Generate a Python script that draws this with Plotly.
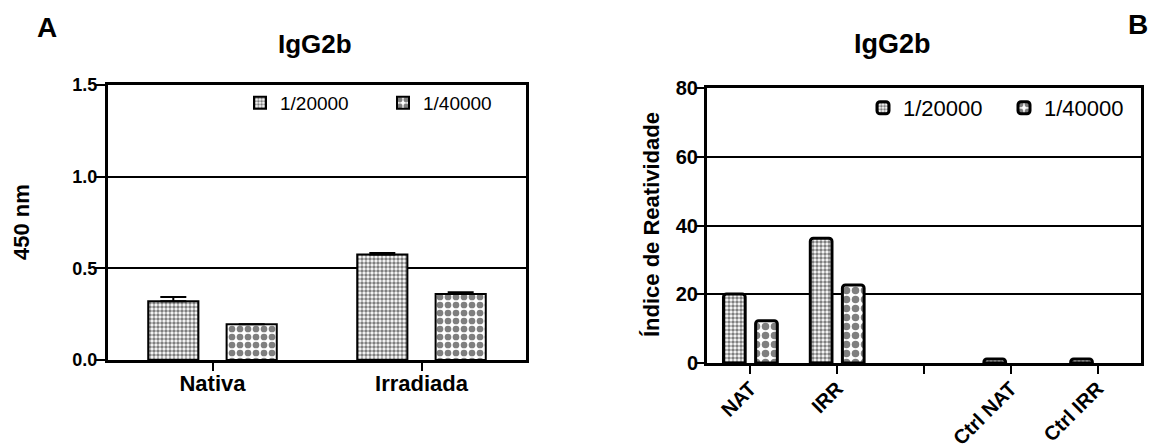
import plotly.graph_objects as go

FONT = "Liberation Sans, Arial, sans-serif"

# ---------------- data ----------------
series_names = ["1/20000", "1/40000"]

a_categories = ["Nativa", "Irradiada"]
a_20000 = [0.32, 0.575]
a_20000_err = [0.023, 0.008]
a_40000 = [0.195, 0.36]
a_40000_err = [0.0, 0.01]
a_yticks = [0.0, 0.5, 1.0, 1.5]

b_categories = ["NAT", "IRR", "", "Ctrl NAT", "Ctrl IRR"]
b_20000 = [20.1, 36.3, None, 1.2, 1.2]
b_40000 = [12.3, 22.7, None, None, None]
b_yticks = [0, 20, 40, 60, 80]

# page body has an 8px margin, so the figure is sized to fit the window
OFF = 8
WIN_W, WIN_H = 1156, 448
W, H = WIN_W - OFF, WIN_H - OFF


def px_x(p):
    return (p - OFF) / W


def px_y(p):
    return (WIN_H - p) / H


def fine(size):
    return dict(shape=".", size=size, solidity=0.6, fgcolor="black", bgcolor="white")


def coarse(size):
    return dict(shape=".", size=size, solidity=0.55, fgcolor="black", bgcolor="white")


fig = go.Figure()

a_x = list(range(len(a_categories)))
b_x = list(range(len(b_categories)))

# Panel A
fig.add_trace(go.Bar(
    x=a_x, y=a_20000, name=series_names[0], width=0.24, offset=-0.3075,
    marker=dict(color="white", line=dict(color="black", width=2), pattern=fine(4)),
    error_y=dict(type="data", array=a_20000_err, arrayminus=[0] * len(a_20000_err),
                 symmetric=False, color="black", thickness=2, width=13),
    xaxis="x", yaxis="y", legend="legend",
))
fig.add_trace(go.Bar(
    x=a_x, y=a_40000, name=series_names[1], width=0.24, offset=0.0675,
    marker=dict(color="white", line=dict(color="black", width=2), pattern=coarse(8)),
    error_y=dict(type="data", array=a_40000_err, arrayminus=[0] * len(a_40000_err),
                 symmetric=False, color="black", thickness=2, width=13),
    xaxis="x", yaxis="y", legend="legend",
))

# Panel B
fig.add_trace(go.Bar(
    x=b_x, y=b_20000, name=series_names[0], width=0.25, offset=-0.31,
    marker=dict(color="white", line=dict(color="black", width=3), pattern=fine(4),
                cornerradius=3),
    xaxis="x2", yaxis="y2", legend="legend2",
))
fig.add_trace(go.Bar(
    x=b_x, y=b_40000, name=series_names[1], width=0.25, offset=0.06,
    marker=dict(color="white", line=dict(color="black", width=3), pattern=coarse(9),
                cornerradius=3),
    xaxis="x2", yaxis="y2", legend="legend2",
))

axis_common = dict(
    showline=True, linecolor="black", mirror=True, zeroline=False,
    ticks="outside", tickcolor="black", tickwidth=2, automargin=False,
)

fig.update_layout(
    width=W, height=H,
    margin=dict(l=0, r=0, t=0, b=0, autoexpand=False),
    paper_bgcolor="white", plot_bgcolor="white",
    font=dict(family=FONT, color="black"),
    barmode="overlay",
    xaxis=dict(
        domain=[px_x(108), px_x(526)], anchor="y",
        range=[-0.5, len(a_categories) - 0.5],
        tickmode="array", tickvals=a_x, ticktext=a_categories,
        ticklen=8, linewidth=3, showgrid=False, ticklabelstandoff=-6,
        tickfont=dict(family=FONT, size=22, weight="bold"),
        **axis_common,
    ),
    xaxis3=dict(
        overlaying="x", side="top", anchor="y",
        range=[-0.5, len(a_categories) - 0.5],
        tickmode="array", tickvals=a_x, automargin=False,
        ticks="inside", ticklen=9, tickwidth=2, tickcolor="black",
        showticklabels=False, showgrid=False, showline=False, zeroline=False,
    ),
    yaxis=dict(
        domain=[px_y(360), px_y(85)], anchor="x",
        range=[0, 1.5], tickmode="array", tickvals=a_yticks, tickformat=".1f",
        ticklen=10, linewidth=3, ticklabelstandoff=-6,
        showgrid=True, gridcolor="black", gridwidth=2,
        tickfont=dict(family=FONT, size=18, weight="bold"),
        **axis_common,
    ),
    xaxis2=dict(
        domain=[px_x(707), px_x(1141)], anchor="y2",
        range=[-0.5, len(b_categories) - 0.5],
        tickmode="array", tickvals=b_x, ticktext=b_categories, tickangle=-45,
        ticklen=8, linewidth=3, showgrid=False, ticklabelstandoff=-5,
        tickfont=dict(family=FONT, size=20, weight="bold"),
        **axis_common,
    ),
    yaxis2=dict(
        domain=[px_y(363), px_y(88)], anchor="x2",
        range=[0, 80], tickmode="array", tickvals=b_yticks,
        ticklen=9, linewidth=3, ticklabelstandoff=-7,
        showgrid=True, gridcolor="black", gridwidth=2,
        tickfont=dict(family=FONT, size=20, weight="bold"),
        **axis_common,
    ),
    legend=dict(
        orientation="h", x=px_x(240), y=px_y(103), xanchor="left", yanchor="middle",
        font=dict(family=FONT, size=19, color="black"),
        bgcolor="rgba(0,0,0,0)", entrywidth=98, entrywidthmode="pixels",
    ),
    legend2=dict(
        orientation="h", x=px_x(863), y=px_y(108), xanchor="left", yanchor="middle",
        font=dict(family=FONT, size=22, color="black"),
        bgcolor="rgba(0,0,0,0)", entrywidth=96, entrywidthmode="pixels",
    ),
)

ann = [
    dict(text="A", x=px_x(46.5), y=px_y(28), size=28, angle=0),
    dict(text="B", x=px_x(1138), y=px_y(24), size=28, angle=0),
    dict(text="IgG2b", x=px_x(315), y=px_y(44), size=26, angle=0),
    dict(text="IgG2b", x=px_x(892), y=px_y(44), size=27, angle=0),
    dict(text="450 nm", x=px_x(21), y=px_y(222), size=22, angle=-90),
    dict(text="Índice de Reatividade", x=px_x(651), y=px_y(225), size=22, angle=-90),
]
for a in ann:
    fig.add_annotation(
        text=a["text"], x=a["x"], y=a["y"], xref="paper", yref="paper",
        xanchor="center", yanchor="middle", showarrow=False, textangle=a["angle"],
        font=dict(family=FONT, size=a["size"], color="black", weight="bold"),
    )

fig.write_html("out.html")
